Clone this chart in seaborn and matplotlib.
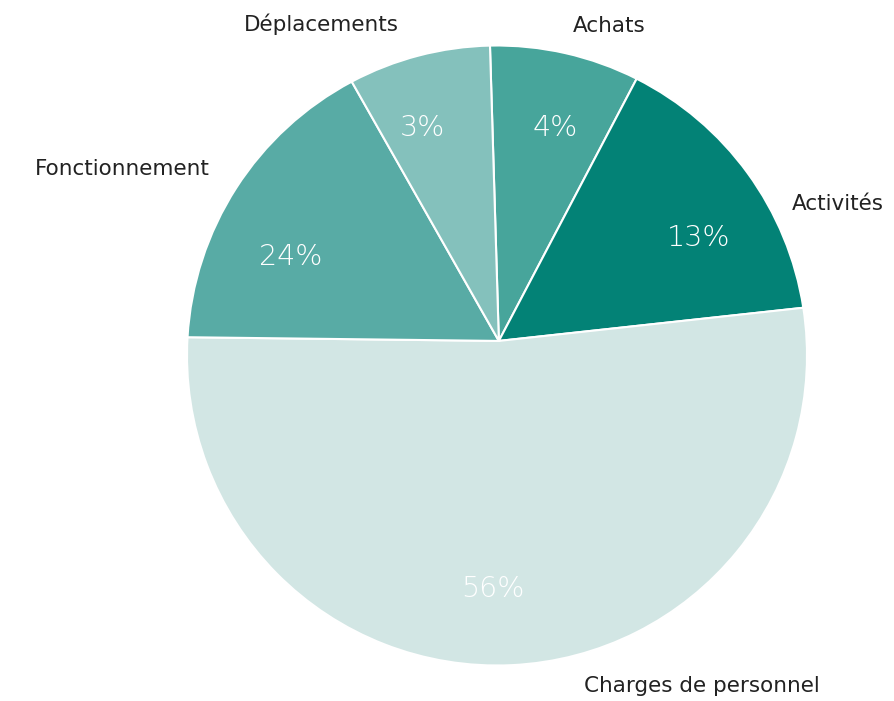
import numpy as np
import matplotlib.pyplot as plt
import seaborn as sns
from matplotlib.path import Path
from matplotlib.patches import PathPatch

# donnees (taille des parts, en % du cercle)
categories = ['Achats', 'Activités', 'Charges de personnel', 'Fonctionnement', 'Déplacements']
slice_sizes = [7.8, 15.1, 53.4, 16.3, 7.4]
pct_labels = ['4%', '13%', '56%', '24%', '3%']
colors = ['#47a59b', '#038276', '#d2e6e4', '#58aba5', '#84c1bc']

sns.set_theme(style='white')
plt.rcParams['font.family'] = ['DejaVu Sans']

fig = plt.figure(figsize=(8.94, 7.01), dpi=100)
ax = fig.add_axes([0, 0, 1, 1])

pct_iter = iter(pct_labels)
wedges, texts, autotexts = ax.pie(
    slice_sizes, colors=colors, startangle=91.3, counterclock=False,
    autopct=lambda p: next(pct_iter), pctdistance=0.75,
    wedgeprops=dict(edgecolor='white', linewidth=1.5),
    textprops=dict(color='white', fontsize=20.5, fontweight='light'))

# le sommet des parts est un peu au-dessus du centre du cercle
apex = np.array([0.006, 0.047])
for w in wedges:
    arc = Path.arc(w.theta1, w.theta2)
    verts = np.vstack([[apex], arc.vertices, [apex]])
    codes = [Path.MOVETO, Path.LINETO] + list(arc.codes[1:]) + [Path.CLOSEPOLY]
    ax.add_patch(PathPatch(Path(verts, codes), facecolor=w.get_facecolor(),
                           edgecolor='white', linewidth=1.5, zorder=1))
    w.set_visible(False)

# position des pourcentages dans les parts
pct_pos = [(0.187, 0.734), (0.652, 0.379), (-0.013, -0.753), (-0.665, 0.318), (-0.239, 0.734)]
for t, xy in zip(autotexts, pct_pos):
    t.set_position(xy)

# position des etiquettes exterieures
label_pos = [(0.361, 1.063, 'center'), (0.952, 0.489, 'left'), (0.281, -1.066, 'left'),
             (-0.926, 0.602, 'right'), (-0.568, 1.069, 'center')]
for name, (x, y, ha) in zip(categories, label_pos):
    ax.text(x, y, name, ha=ha, va='center', fontsize=15.5, color='#222222')

ax.set_xlim(-497 / 310, (894 - 497) / 310)
ax.set_ylim(-(701 - 355.5) / 310, 355.5 / 310)
ax.set_aspect('auto')
ax.axis('off')

fig.savefig('out.png', dpi=100)
